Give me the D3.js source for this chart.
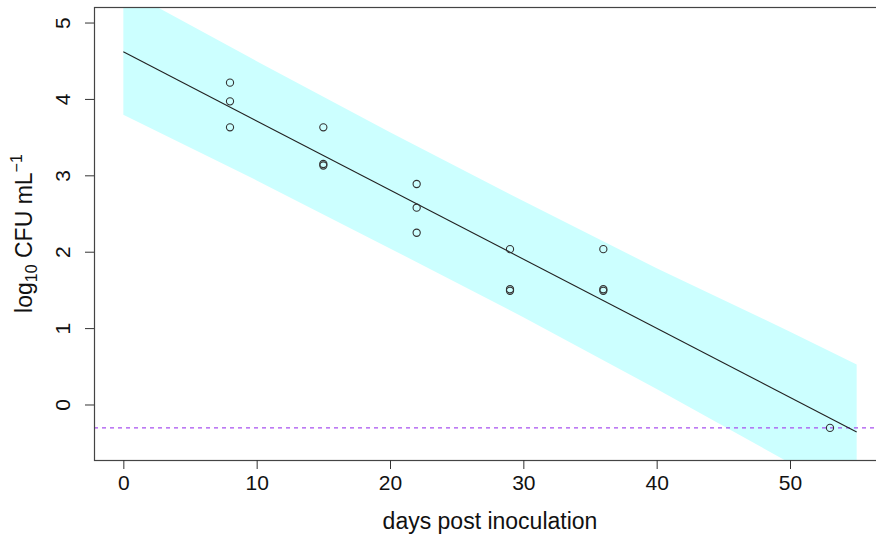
<!DOCTYPE html>
<html><head><meta charset="utf-8">
<script src="https://cdn.jsdelivr.net/npm/d3@7"></script>
<style>body{margin:0;background:#fff}svg{display:block;font-family:"Liberation Sans",Arial,Helvetica,sans-serif}</style>
</head><body><svg id="c" width="876" height="535"></svg>
<script>
const days = [8,8,8,15,15,15,22,22,22,29,29,29,36,36,36,53];
const logCFU = [4.22,3.975,3.635,3.635,3.155,3.135,2.893,2.583,2.255,2.04,1.515,1.495,2.04,1.515,1.495,-0.30];
const fitX = [0,55];
const fitY = [4.624,-0.353];
const bandX = [0,10,20,30,40,50,55];
const bandLower = [3.80,2.94,2.05,1.15,0.21,-0.76,-1.24];
const bandUpper = [5.45,4.50,3.57,2.67,1.79,0.96,0.53];
const detectionLimit = -0.30;
const xTicks = [0,10,20,30,40,50];
const yTicks = [0,1,2,3,4,5];

const svg = d3.select("#c");
const L=94,R=886,T=7,B=460;
const x = d3.scaleLinear().domain([-2.2,57.2]).range([L,R]);
const y = d3.scaleLinear().domain([-0.72,5.21]).range([B,T]);

svg.append("defs").append("clipPath").attr("id","clip")
  .append("rect").attr("x",L).attr("y",T).attr("width",R-L).attr("height",B-T);
const g = svg.append("g").attr("clip-path","url(#clip)");

const band = bandX.map((d,i)=>({x:d,lo:bandLower[i],hi:bandUpper[i]}));
g.append("path").datum(band)
  .attr("d", d3.area().x(d=>x(d.x)).y0(d=>y(d.lo)).y1(d=>y(d.hi)))
  .attr("fill","#ccffff").attr("stroke","none");

g.append("line").attr("x1",L).attr("x2",R)
  .attr("y1",y(detectionLimit)).attr("y2",y(detectionLimit))
  .attr("stroke","#a850f0").attr("stroke-width",1.2).attr("stroke-dasharray","4,4");

g.append("path").datum(fitX.map((d,i)=>[d,fitY[i]]))
  .attr("d", d3.line().x(d=>x(d[0])).y(d=>y(d[1])))
  .attr("fill","none").attr("stroke","#222").attr("stroke-width",1.1);

g.selectAll("circle.pt").data(days.map((d,i)=>[d,logCFU[i]])).enter()
  .append("circle").attr("cx",d=>x(d[0])).attr("cy",d=>y(d[1])).attr("r",3.6)
  .attr("fill","none").attr("stroke","#333").attr("stroke-width",1.1);

// box
svg.append("rect").attr("x",L+0.5).attr("y",T+0.5).attr("width",R-L).attr("height",B-T)
  .attr("fill","none").attr("stroke","#444").attr("stroke-width",1.2);

// axes
const xa = svg.append("g").attr("transform",`translate(0,${B})`)
  .call(d3.axisBottom(x).tickValues(xTicks).tickSize(9).tickPadding(6).tickFormat(d3.format("d")));
xa.select(".domain").remove();
xa.selectAll("line").attr("stroke","#333");
xa.selectAll("text").attr("font-size",21).attr("fill","#111").attr("dy","0.71em");

const ya = svg.append("g").attr("transform",`translate(${L},0)`)
  .call(d3.axisLeft(y).tickValues(yTicks).tickSize(9).tickPadding(6).tickFormat(d3.format("d")));
ya.select(".domain").remove();
ya.selectAll("line").attr("stroke","#333");
ya.selectAll("text").attr("font-size",21).attr("fill","#111")
  .attr("text-anchor","middle").attr("x",0).attr("dy",0)
  .attr("transform",d=>`translate(${-31},${y(d)}) rotate(-90) translate(0,7)`).attr("y",0);
ya.selectAll(".tick").attr("transform",null);
ya.selectAll(".tick line").attr("y1",d=>y(d)).attr("y2",d=>y(d));

svg.append("text").attr("x",(L+R)/2).attr("y",529)
  .attr("text-anchor","middle").attr("font-size",23).attr("fill","#111")
  .text("days post inoculation");

const yl = svg.append("text").attr("transform",`translate(32,${(T+B)/2}) rotate(-90)`)
  .attr("text-anchor","middle").attr("font-size",23).attr("fill","#111");
yl.append("tspan").text("log");
yl.append("tspan").attr("font-size",16).attr("dy",5).text("10");
yl.append("tspan").attr("dy",-5).text(" CFU mL");
yl.append("tspan").attr("font-size",16).attr("dy",-10).text("\u22121");
</script></body></html>
